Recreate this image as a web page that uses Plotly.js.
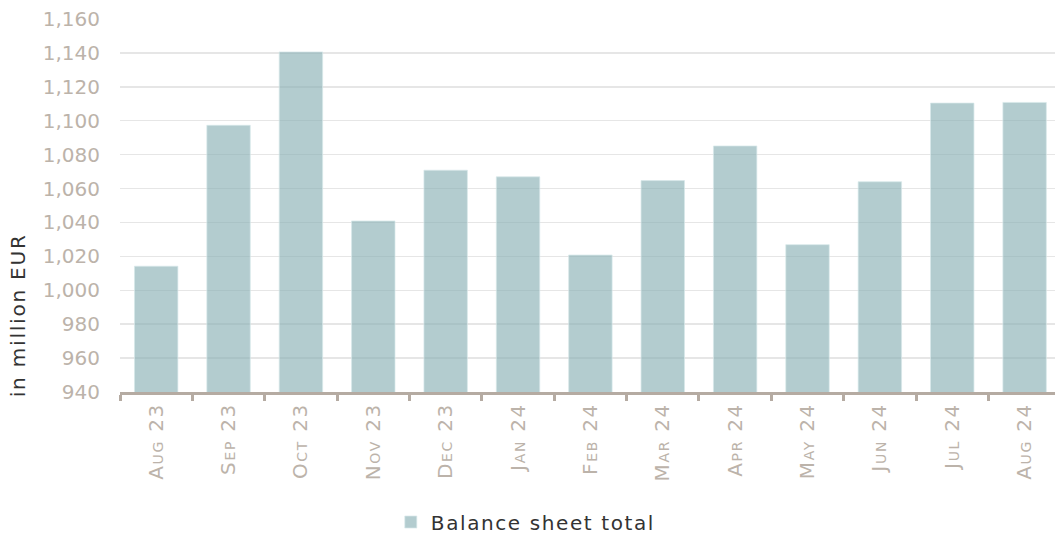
<!DOCTYPE html>
<html>
<head>
<meta charset="utf-8">
<script src="https://cdn.plot.ly/plotly-3.0.1.min.js"></script>
<style>
  html, body { margin: 0; padding: 0; background: #fff; }
  #chart { width: 1055px; height: 538px; }
  .legendtext { letter-spacing: 1.6px; }
  .annotation-text { letter-spacing: 1.8px; }
  .xtick text { letter-spacing: 1.7px; }
</style>
</head>
<body>
<div id="chart"></div>
<script>
const categories = ["Aug 23", "Sep 23", "Oct 23", "Nov 23", "Dec 23", "Jan 24", "Feb 24", "Mar 24", "Apr 24", "May 24", "Jun 24", "Jul 24", "Aug 24"];
const balanceSheetTotal = [1014.2, 1097.3, 1140.6, 1040.9, 1070.8, 1066.9, 1020.8, 1064.7, 1085.1, 1026.9, 1064.0, 1110.4, 1110.8];
const yTickValues = [940, 960, 980, 1000, 1020, 1040, 1060, 1080, 1100, 1120, 1140, 1160];
const seriesName = "Balance sheet total";
const yTitle = "in million EUR";

const taupe = "#b5aba2";
const data = [{
  type: "bar",
  x: categories,
  y: balanceSheetTotal,
  name: seriesName,
  width: 0.6,
  marker: {
    color: "rgba(133,172,178,0.62)",
    line: { color: "rgba(215,232,234,0.7)", width: 1 }
  },
  hoverinfo: "x+y"
}];

const layout = {
  width: 1055,
  height: 538,
  margin: { l: 120, r: 0, t: 19, b: 146, pad: 0 },
  paper_bgcolor: "#ffffff",
  plot_bgcolor: "#ffffff",
  font: { family: "DejaVu Sans, Verdana, sans-serif", color: "#333333" },
  bargap: 0.4,
  showlegend: true,
  xaxis: {
    type: "category",
    range: [-0.5, 12.42],
    showline: true,
    linecolor: taupe,
    linewidth: 3,
    ticks: "outside",
    tickson: "boundaries",
    ticklen: 6,
    tickwidth: 3,
    tickcolor: taupe,
    tickangle: -90,
    tickfont: { size: 20, color: "#bcb3aa", variant: "small-caps" },
    showgrid: false,
    zeroline: false,
    automargin: false,
    fixedrange: true
  },
  yaxis: {
    range: [940, 1160],
    tickvals: yTickValues,
    tickformat: ",d",
    showgrid: true,
    gridcolor: "#e6e6e6",
    gridwidth: 1.5,
    zeroline: false,
    showline: false,
    ticks: "",
    ticklabelstandoff: 19,
    tickfont: { size: 20, color: "#bcb3aa" },
    automargin: false,
    fixedrange: true
  },
  legend: {
    orientation: "h",
    xref: "container",
    yref: "container",
    x: 0.4984,
    xanchor: "center",
    y: 0.0297,
    yanchor: "middle",
    font: { size: 20, color: "#333333" },
    itemwidth: 30,
    bgcolor: "rgba(0,0,0,0)"
  },
  annotations: [{
    text: yTitle,
    xref: "paper",
    yref: "paper",
    x: -0.109,
    y: 0.206,
    xanchor: "center",
    yanchor: "middle",
    textangle: -90,
    showarrow: false,
    font: { size: 20, color: "#333333" }
  }]
};

Plotly.newPlot("chart", data, layout, { displayModeBar: false, staticPlot: true });
</script>
</body>
</html>
